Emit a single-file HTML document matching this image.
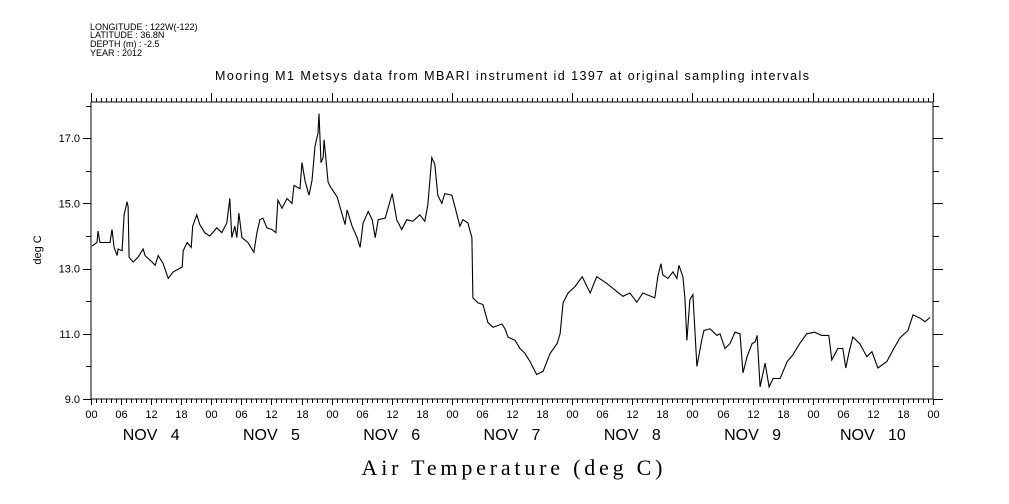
<!DOCTYPE html>
<html><head><meta charset="utf-8"><style>
html,body{margin:0;padding:0;background:#fff;}
svg{display:block;font-family:"Liberation Sans",sans-serif;}
</style></head><body>
<svg id="chart" width="1009" height="504" viewBox="0 0 1009 504" xmlns="http://www.w3.org/2000/svg">
<g font-size="9" fill="#000">
<text x="90" y="30">LONGITUDE : 122W(-122)</text>
<text x="90" y="38">LATITUDE : 36.8N</text>
<text x="90" y="47">DEPTH (m) : -2.5</text>
<text x="90" y="56">YEAR : 2012</text>
</g>
<text x="215" y="80" font-size="12.5" textLength="594">Mooring M1 Metsys data from MBARI instrument id 1397 at original sampling intervals</text>
<text x="512" y="475" font-size="22" text-anchor="middle" font-family="Liberation Serif, serif" textLength="301">Air Temperature (deg C)</text>
<text transform="translate(41,250) rotate(-90)" font-size="11" text-anchor="middle">deg C</text>
<g id="axes"></g>
<path id="line" fill="none" stroke="#000" stroke-width="1.1"/>
</svg>
<script>
const hours=[0.2,1.2,1.4,1.8,3.8,4.2,4.6,5.2,5.4,6.2,6.6,7.2,7.4,7.6,8.4,9.4,10.4,10.8,12.2,12.8,13.4,14.4,15.4,16.4,18.2,18.4,19.2,20.0,20.3,21.1,21.7,22.7,23.7,25.1,26.1,27.1,27.7,28.1,28.7,29.1,29.5,30.1,31.3,32.5,33.1,33.7,34.3,35.1,36.1,36.9,37.3,38.1,39.1,40.1,40.5,41.7,42.1,42.7,43.5,44.1,44.7,45.3,45.5,45.9,46.3,46.5,47.3,47.8,49.1,50.7,51.1,52.1,53.1,53.7,54.3,55.3,56.1,56.7,57.3,58.7,60.1,61.0,62.0,63.0,64.2,65.6,66.6,67.2,68.0,68.6,69.2,70.0,70.6,72.0,72.6,73.6,74.2,75.2,76.0,76.2,77.2,78.2,79.2,80.2,82.0,82.6,83.2,84.6,85.6,86.6,87.6,88.9,90.2,91.6,93.0,93.6,94.2,95.2,96.6,98.0,99.6,100.9,102.9,104.9,106.1,107.5,108.9,110.1,112.5,113.1,113.7,114.1,115.1,116.1,116.9,117.3,118.1,118.5,118.9,119.5,120.1,120.9,121.9,122.3,123.5,124.9,125.5,126.5,127.5,128.5,129.5,130.1,130.9,131.9,132.5,132.9,133.5,134.5,135.3,136.1,137.5,138.9,140.0,141.4,142.8,144.4,145.8,147.2,147.8,149.0,150.0,150.6,151.2,152.0,153.4,154.8,155.8,157.0,158.8,160.0,161.4,163.0,164.0,165.4,166.4,167.4];
const temps=[13.69,13.8,14.15,13.8,13.8,14.2,13.65,13.4,13.6,13.55,14.65,15.05,14.9,13.35,13.2,13.35,13.6,13.4,13.2,13.1,13.4,13.15,12.7,12.9,13.05,13.55,13.8,13.65,14.3,14.65,14.35,14.1,14.0,14.25,14.1,14.4,15.15,13.95,14.3,13.95,14.7,13.95,13.8,13.5,14.1,14.5,14.55,14.25,14.2,14.1,15.1,14.85,15.15,15.0,15.55,15.45,16.25,15.7,15.25,15.7,16.75,17.15,17.75,16.25,16.4,16.95,15.65,15.5,15.2,14.35,14.8,14.3,13.95,13.65,14.4,14.75,14.5,13.95,14.5,14.55,15.3,14.5,14.2,14.5,14.45,14.65,14.45,14.95,16.4,16.2,15.25,15.0,15.3,15.25,14.9,14.3,14.5,14.4,13.95,12.1,11.95,11.9,11.35,11.2,11.3,11.15,10.9,10.8,10.55,10.4,10.15,9.75,9.85,10.4,10.7,11.0,11.95,12.25,12.45,12.75,12.25,12.75,12.55,12.3,12.15,12.25,11.97,12.25,12.1,12.75,13.15,12.8,12.7,12.9,12.7,13.1,12.75,12.1,10.8,12.05,12.2,10.0,10.85,11.1,11.15,10.95,11.0,10.55,10.7,11.05,11.0,9.8,10.3,10.7,10.75,10.95,9.37,10.1,9.37,9.63,9.63,10.15,10.35,10.7,11.0,11.05,10.95,10.95,10.2,10.55,10.55,9.95,10.4,10.9,10.7,10.3,10.45,9.95,10.15,10.5,10.87,11.1,11.58,11.48,11.37,11.5];
const yTicks=[9,11,13,15,17];
const yTickLabels=["9.0","11.0","13.0","15.0","17.0"];
const hourLabels=["00","06","12","18"];
const dayLabels=["NOV   4","NOV   5","NOV   6","NOV   7","NOV   8","NOV   9","NOV   10"];
const X0=91,X1=933,Y0=399,Y1=102,H0=0,H1=168,V0=9,V1=18.11;
function xs(h){return X0+(h-H0)/(H1-H0)*(X1-X0);}
function ys(v){return Y0-(v-V0)/(V1-V0)*(Y0-Y1);}
const NS="http://www.w3.org/2000/svg";
const ax=document.getElementById('axes');
function ln(x1,y1,x2,y2,name){const l=document.createElementNS(NS,'line');l.setAttribute('x1',x1);l.setAttribute('y1',y1);l.setAttribute('x2',x2);l.setAttribute('y2',y2);l.setAttribute('stroke','#000');l.setAttribute('stroke-width','1');


ax.appendChild(l);}
function tx(x,y,s,size,anchor,name){const t=document.createElementNS(NS,'text');t.setAttribute('x',x);t.setAttribute('y',y);t.setAttribute('font-size',size);t.setAttribute('text-anchor',anchor);t.setAttribute('style','white-space:pre');t.textContent=s;


ax.appendChild(t);}
ln(X0,Y1,X1,Y1,'top-axis');ln(X0,Y0,X1,Y0,'bottom-axis');ln(X0,Y1,X0,Y0,'left-axis');ln(X1,Y1,X1,Y0,'right-axis');
for(let h=0;h<=168;h++){const x=Math.round(xs(h))+0.5;
 const day=h%24===0,six=h%6===0;
 ln(x,Y0,x,Y0+(six?6:4),'bottom-tick');
 ln(x,Y1,x,Y1-(day?9:4),'top-tick');
 if(six){tx(x,418,hourLabels[(h%24)/6],11,'middle','hour-label');}
}
for(let d=0;d<dayLabels.length;d++){tx(xs(d*24+12),440,dayLabels[d],16,'middle','day-label');}
for(let v=9;v<=18;v++){const y=Math.round(ys(v))+0.5;const major=v%2===1;
 ln(X0-(major?8:5),y,X0,y,'left-tick');ln(X1,y,X1+(major?10:6),y,'right-tick');}
yTicks.forEach((v,i)=>tx(80,ys(v)+4,yTickLabels[i],11,'end','y-tick-label'));
let d='';hours.forEach((h,i)=>{d+=(i?'L':'M')+xs(h).toFixed(1)+' '+ys(temps[i]).toFixed(1);});
document.getElementById('line').setAttribute('d',d);
</script>
</body></html>
